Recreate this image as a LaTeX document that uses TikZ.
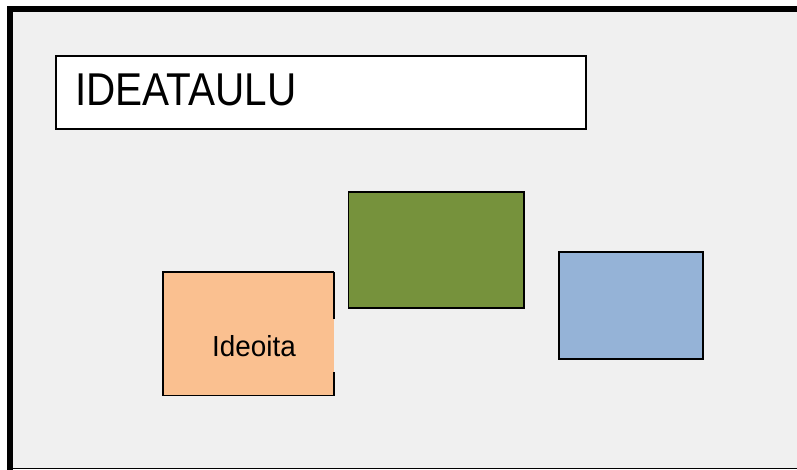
\documentclass[tikz,border=0pt]{standalone}
\usepackage{fontspec}
\setmainfont{Liberation Sans}
\usepackage{graphicx}
\definecolor{boardbg}{HTML}{F0F0F0}
\definecolor{orangefill}{HTML}{FAC090}
\definecolor{greenfill}{HTML}{76923C}
\definecolor{bluefill}{HTML}{95B3D7}
\begin{document}
\begin{tikzpicture}[x=1pt,y=-1pt,
  card/.style={draw=black, line width=1.8pt, inner sep=0pt, outer sep=0pt, anchor=north west},
  plaincard/.style={inner sep=0pt, outer sep=0pt, anchor=north west}]
\useasboundingbox (0,0) rectangle (797,470);
% board
\fill[boardbg] (10,9) rectangle (797,468.5);
\draw[line width=6pt] (10,470) -- (10,9) -- (797,9);
\draw[line width=1.5pt] (10,468.5) -- (797,468.5);
% title
\node[card, fill=white, minimum width=530pt, minimum height=73pt] (title) at (56,56) {};
\node[anchor=base west, inner sep=0pt, font=\fontsize{46}{46}\selectfont] (titletext) at (75,106) {\scalebox{0.88}[1]{IDEATAULU}};
% orange card (border with a gap on the right side)
\node[plaincard, fill=orangefill, minimum width=171pt, minimum height=123.5pt] (orange) at (163,272) {};
\draw[line width=1.8pt, line join=miter] (orange.north east) -- (orange.north west) -- (orange.south west) -- (orange.south east) -- ++(0,-24);
\draw[line width=1.8pt] (orange.north east) -- ++(0,47);
\node[anchor=base, inner sep=0pt, font=\fontsize{29}{29}\selectfont] (ideoita) at (254,356) {\scalebox{0.96}[1]{Ideoita}};
% green card
\node[card, fill=greenfill, minimum width=175.5pt, minimum height=116pt] (green) at (348.5,192) {};
% blue card
\node[card, fill=bluefill, minimum width=144pt, minimum height=107pt] (blue) at (558.7,252) {};
\end{tikzpicture}
\end{document}
